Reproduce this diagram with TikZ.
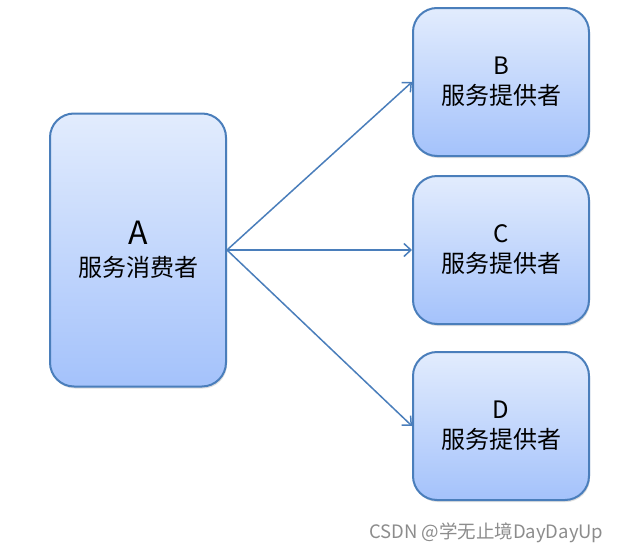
\documentclass[tikz,border=0pt]{standalone}
\usepackage{fontspec}
\setmainfont{Noto Sans CJK SC}
\usepackage{tikz}
\usetikzlibrary{arrows.meta, shadows, positioning}
\definecolor{box_top}{HTML}{E2ECFD}
\definecolor{box_bottom}{HTML}{A4C2FB}
\definecolor{box_border}{HTML}{4A7EBB}
\tikzset{
  box_font/.style = {font=\fontsize{24}{30}\selectfont},
  role/.style = {box_font, align=center, draw=box_border, line width=2pt,
      rounded corners=24pt, top color=box_top, bottom color=box_bottom,
      minimum width=176pt,
      drop shadow={opacity=0.25, shadow xshift=1pt, shadow yshift=-2pt}},
  consumer/.style = {role, minimum height=273pt},
  provider/.style = {role, minimum height=148pt},
  call/.style = {draw=box_border, line width=1.5pt, -{Straight Barb[length=7pt, width=13pt]}},
  banner/.style = {font=\fontsize{18.5}{20}\selectfont, text=black!45}
}
\begin{document}
\begin{tikzpicture}[x=1pt, y=-1pt]
    \useasboundingbox (0,0) rectangle (622,552);

    % Actors
    \node[consumer] at (138,250) (a) {{\fontsize{32}{32}\selectfont A}\\[2pt]服务消费者};
    \node[provider] at (501,82) (b) {B\\服务提供者};
    \node[provider] at (501,250) (c) {C\\服务提供者};
    \node[provider] at (501,426) (d) {D\\服务提供者};

    % Arrows
    \draw[call] (a.east) -- (b.west);
    \draw[call] (a.east) -- (c.west);
    \draw[call] (a.east) -- (d.west);

    \node[banner, anchor=east] at (607,533) (mark) {CSDN @学无止境DayDayUp};
\end{tikzpicture}
\end{document}
